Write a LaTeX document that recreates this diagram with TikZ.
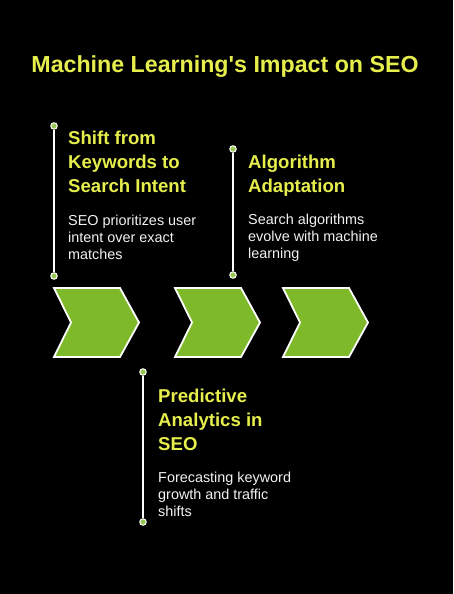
\documentclass[tikz,border=0pt]{standalone}
\usepackage{fontspec}
\setmainfont{Liberation Sans}[Ligatures=TeXOff]
\definecolor{ylw}{HTML}{E6EE4C}
\definecolor{grn}{HTML}{7DB928}
\definecolor{txt}{HTML}{F2F2F2}
\begin{document}
\begin{tikzpicture}[x=1pt,y=-1pt,
  headtext/.style={anchor=base west,inner sep=0pt,align=left,text=ylw,font=\fontsize{18.6}{24}\selectfont\bfseries},
  desctext/.style={anchor=base west,inner sep=0pt,align=left,text=txt,font=\fontsize{14.4}{17}\selectfont},
  chev/.style={fill=grn,draw=white,line width=1.8pt,line join=miter},
  stem/.style={draw=white,line width=1.8pt},
  dot/.style={circle,fill=grn!80!white,draw=white,line width=1pt,minimum size=6.5pt,inner sep=0pt}]
\fill[black] (0,0) rectangle (453,594);
\useasboundingbox (0,0) rectangle (453,594);
\node[anchor=base,inner sep=0pt,text=ylw,font=\fontsize{23.2}{27}\selectfont\bfseries] (title) at (225,72) {Machine Learning's Impact on SEO};
% chevrons
\foreach \n/\x in {c1/54,c2/175,c3/283}{
  \draw[chev] (\x,288) -- (\x+66,288) -- (\x+85,322.5) -- (\x+66,357) -- (\x,357) -- (\x+17,322.5) -- cycle;
}
% stems
\node[dot] (a1) at (54,126) {};
\node[dot] (a2) at (54,276) {};
\node[dot] (b1) at (233,149) {};
\node[dot] (b2) at (233,275) {};
\node[dot] (p1) at (143,372) {};
\node[dot] (p2) at (143,522) {};
\draw[stem] (a1) -- (a2);
\draw[stem] (b1) -- (b2);
\draw[stem] (p1) -- (p2);
% texts (base anchor = last line baseline)
\node[headtext] (h1) at (68,192) {Shift from\\Keywords to\\Search Intent};
\node[desctext] (d1) at (68,259) {SEO prioritizes user\\intent over exact\\matches};
\node[headtext] (h2) at (248,192) {Algorithm\\Adaptation};
\node[desctext] (d2) at (248,258) {Search algorithms\\evolve with machine\\learning};
\node[headtext] (h3) at (158,450) {Predictive\\Analytics in\\SEO};
\node[desctext] (d3) at (158,516) {Forecasting keyword\\growth and traffic\\shifts};
\end{tikzpicture}
\end{document}
